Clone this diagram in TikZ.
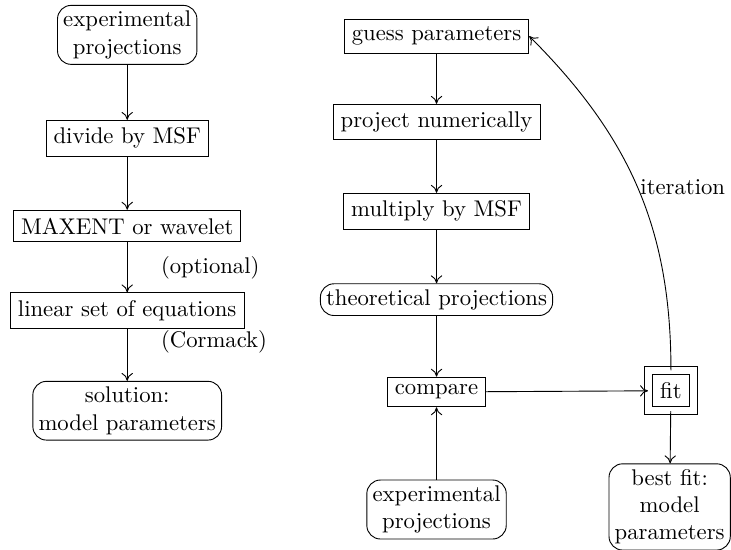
\documentclass[tikz,border=0pt]{standalone}
\usetikzlibrary{positioning,arrows.meta}
\begin{document}
\begin{tikzpicture}[>={To[length=3.5pt,width=5pt]},
                    box/.style={draw,rectangle},
                    rbox/.style={draw,rounded corners=6pt,align=center,inner sep=2.5pt},
                    fitbox/.style={draw,double,double distance=3pt,inner sep=5.2pt}]
            \useasboundingbox (0,0) rectangle (11.32,-8.51);

            % left: direct inversion
            \node[rbox] (exp1) at (1.97,-0.54) {experimental\\projections};
            \node[box] (divide) at (1.97,-2.14) {divide by MSF};
            \node[box] (maxent) at (1.97,-3.50) {MAXENT or wavelet};
            \node[box] (linear) at (1.97,-4.81) {linear set of equations};
            \node[rbox] (solution) at (1.97,-6.36) {solution:\\model parameters};
            \path[->] (exp1) edge (divide);
            \path[->] (divide) edge (maxent);
            \path[->] (maxent) edge node[midway,right=0.4cm]{(optional)} (linear);
            \path[->] (linear) edge node[pos=0.25,right=0.4cm]{(Cormack)} (solution);

            % right: fitting loop
            \node[box] (guess) at (6.76,-0.56) {guess parameters};
            \node[box] (project) at (6.76,-1.89) {project numerically};
            \node[box] (multiply) at (6.76,-3.27) {multiply by MSF};
            \node[rbox] (theo) at (6.76,-4.64) {theoretical projections};
            \node[box] (compare) at (6.76,-6.07) {compare};
            \node[rbox] (exp2) at (6.76,-7.89) {experimental\\projections};
            \node[fitbox] (fit) at (10.39,-6.05) {fit};
            \node[rbox] (best) at (10.37,-7.85) {best fit:\\model\\parameters};
            \path[->] (guess) edge (project);
            \path[->] (project) edge (multiply);
            \path[->] (multiply) edge (theo);
            \path[->] (theo) edge (compare);
            \path[->] (exp2) edge (compare);
            \path[->] (compare) edge (fit);
            \path[->] (fit) edge (best);
            \path[->] (fit) edge[out=90,in=-45] node[pos=0.5,right,inner sep=1pt]{iteration} (guess.east);
        \end{tikzpicture}
\end{document}
